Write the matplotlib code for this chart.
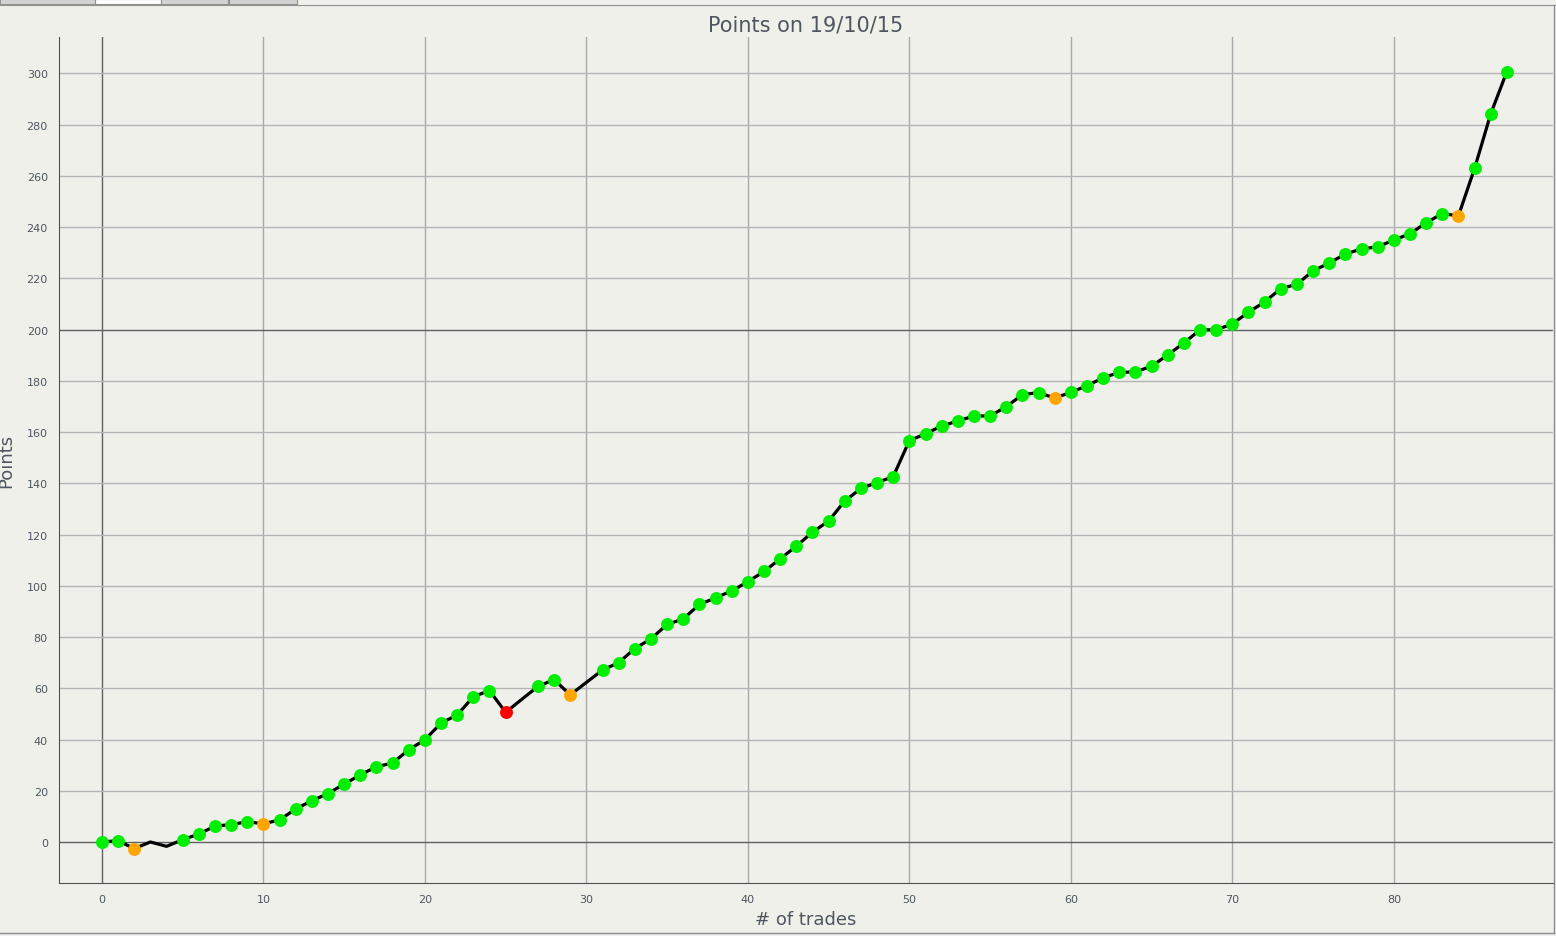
import numpy as np
import matplotlib.pyplot as plt
from matplotlib.patches import Rectangle

# trade number and cumulative points
trades = list(range(88))
points = [0.0, 0.5, -2.6, 0.0, -1.7, 0.9, 3.1, 6.2, 6.8, 7.9,
          7.1, 8.6, 12.9, 16.1, 18.9, 22.6, 26.2, 29.4, 30.8, 36.0,
          39.9, 46.4, 49.6, 56.7, 59.1, 50.6, 55.7, 60.7, 63.4, 57.4,
          62.3, 67.1, 70.0, 75.5, 79.3, 84.9, 87.1, 92.7, 95.3, 98.0,
          101.6, 105.6, 110.5, 115.5, 120.9, 125.3, 133.1, 138.0, 140.3, 142.6,
          156.7, 159.3, 162.4, 164.3, 166.3, 166.3, 169.9, 174.6, 175.4, 173.3,
          175.5, 178.1, 181.2, 183.3, 183.5, 185.7, 190.1, 194.8, 199.9, 199.9,
          202.2, 206.8, 210.8, 216.0, 217.7, 222.9, 226.0, 229.5, 231.5, 232.3,
          235.0, 237.4, 241.7, 245.3, 244.4, 262.9, 284.2, 300.7]
# g = win, o = small loss, r = big loss, '' = no marker
kinds = ['g', 'g', 'o', '', '', 'g', 'g', 'g', 'g', 'g',
         'o', 'g', 'g', 'g', 'g', 'g', 'g', 'g', 'g', 'g',
         'g', 'g', 'g', 'g', 'g', 'r', '', 'g', 'g', 'o',
         '', 'g', 'g', 'g', 'g', 'g', 'g', 'g', 'g', 'g',
         'g', 'g', 'g', 'g', 'g', 'g', 'g', 'g', 'g', 'g',
         'g', 'g', 'g', 'g', 'g', 'g', 'g', 'g', 'g', 'o',
         'g', 'g', 'g', 'g', 'g', 'g', 'g', 'g', 'g', 'g',
         'g', 'g', 'g', 'g', 'g', 'g', 'g', 'g', 'g', 'g',
         'g', 'g', 'g', 'g', 'o', 'g', 'g', 'g']
kind_colors = {'g': '#00ee00', 'o': '#ffa500', 'r': '#ff0000'}

xticks = list(range(0, 81, 10))
yticks = list(range(0, 301, 20))

bg = '#f0f0eb'
fig = plt.figure(figsize=(15.56, 9.37), dpi=100, facecolor=bg)
ax = fig.add_axes([0.0379, 0.0566, 0.9601, 0.9028])
ax.set_facecolor(bg)

# tab strip at top of window
for x0, w, c in [(0, 95, '#d4d4d4'), (95, 66, '#ffffff'), (161, 67, '#d4d4d4'),
                 (229, 68, '#d4d4d4')]:
    fig.patches.append(Rectangle((x0 / 1556, 1 - 5 / 937), w / 1556, 5 / 937,
                                 transform=fig.transFigure, facecolor=c,
                                 edgecolor='#909090', lw=0.8))
fig.lines.append(plt.Line2D([0, 1], [1 - 5.5 / 937] * 2, transform=fig.transFigure,
                            color='#909090', lw=0.8))
# window frame on right and bottom
fig.lines.append(plt.Line2D([1553.5 / 1556] * 2, [3.5 / 937, 1 - 5.5 / 937],
                            transform=fig.transFigure, color='#8c8c94', lw=1))
fig.lines.append(plt.Line2D([0, 1553.5 / 1556], [3.5 / 937] * 2,
                            transform=fig.transFigure, color='#8c8c94', lw=1))

for x in xticks:
    ax.axvline(x, color='#606060' if x == 0 else '#a8a8a8', lw=1, zorder=0)
for y in yticks:
    ax.axhline(y, color='#606060' if y in (0, 200) else '#b4b4b4', lw=1, zorder=0)

ax.plot(trades, points, color='black', lw=2.3, zorder=2)
for k, c in kind_colors.items():
    xs = [t for t, kk in zip(trades, kinds) if kk == k]
    ys = [p for p, kk in zip(points, kinds) if kk == k]
    ax.plot(xs, ys, 'o', color=c, markersize=9.3, markeredgewidth=0, zorder=3)

ax.set_xlim(-2.66, 89.85)
ax.set_ylim(-16, 314.2)
ax.set_xticks(xticks)
ax.set_yticks(yticks)
ax.tick_params(labelsize=8, colors='#4f5660', length=0, pad=8)
for s in ['top', 'right']:
    ax.spines[s].set_visible(False)
for s in ['left', 'bottom']:
    ax.spines[s].set_color('#505050')

ax.set_title('Points on 19/10/15', fontsize=15, color='#4f5660', pad=5)
ax.set_xlabel('# of trades', fontsize=13, color='#4f5660', labelpad=4)
ax.set_ylabel('Points', fontsize=13, color='#4f5660', labelpad=8)

fig.savefig('out.png', dpi=100, facecolor=bg)
